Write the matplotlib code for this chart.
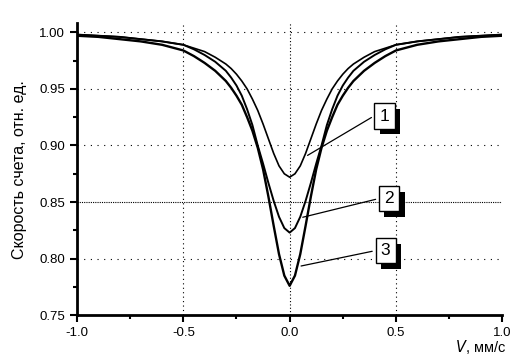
import matplotlib
matplotlib.use('Agg')
import matplotlib.pyplot as plt
import matplotlib.patheffects as pe
from matplotlib.ticker import MultipleLocator

plt.rcParams['font.family'] = ['Liberation Sans', 'DejaVu Sans']

# velocity, mm/s
v = [-1.0, -0.9, -0.8, -0.7, -0.6, -0.5, -0.45, -0.4, -0.35, -0.3, -0.275, -0.25,
     -0.225, -0.2, -0.175, -0.15, -0.125, -0.1, -0.075, -0.05, -0.025, 0.0,
     0.025, 0.05, 0.075, 0.1, 0.125, 0.15, 0.175, 0.2, 0.225, 0.25, 0.275, 0.3,
     0.35, 0.4, 0.45, 0.5, 0.6, 0.7, 0.8, 0.9, 1.0]

# count rate, rel. units
y1 = [0.998, 0.997, 0.996, 0.994, 0.992, 0.989, 0.986, 0.983, 0.978, 0.972, 0.968, 0.963,
      0.957, 0.950, 0.941, 0.931, 0.919, 0.906, 0.893, 0.882, 0.875, 0.872,
      0.875, 0.882, 0.893, 0.906, 0.919, 0.931, 0.941, 0.950, 0.957, 0.963, 0.968, 0.972,
      0.978, 0.983, 0.986, 0.989, 0.992, 0.994, 0.996, 0.997, 0.998]
y2 = [0.998, 0.997, 0.996, 0.994, 0.992, 0.989, 0.985, 0.980, 0.974, 0.966, 0.960, 0.953,
      0.944, 0.932, 0.918, 0.900, 0.884, 0.867, 0.851, 0.837, 0.827, 0.823,
      0.827, 0.837, 0.851, 0.867, 0.884, 0.900, 0.918, 0.932, 0.944, 0.953, 0.960, 0.966,
      0.974, 0.980, 0.985, 0.989, 0.992, 0.994, 0.996, 0.997, 0.998]
y3 = [0.997, 0.996, 0.994, 0.992, 0.989, 0.984, 0.979, 0.973, 0.966, 0.957, 0.951, 0.944,
      0.936, 0.925, 0.913, 0.898, 0.879, 0.855, 0.829, 0.804, 0.785, 0.776,
      0.785, 0.804, 0.829, 0.855, 0.879, 0.898, 0.913, 0.925, 0.936, 0.944, 0.951, 0.957,
      0.966, 0.973, 0.979, 0.984, 0.989, 0.992, 0.994, 0.996, 0.997]

labels = ['1', '2', '3']
label_pos = [(0.446, 0.926), (0.467, 0.853), (0.451, 0.807)]
label_tip = [(0.073, 0.890), (0.049, 0.836), (0.041, 0.793)]

fig = plt.figure(figsize=(5.15, 3.64), dpi=100)
ax = fig.add_axes([0.1495, 0.134, 0.8258, 0.802])

ax.set_xlim(-1.0, 1.0)
ax.set_ylim(0.75, 1.008)

# grid lines
for yy in [0.80, 0.90, 0.95, 1.00]:
    ax.axhline(yy, color='k', lw=0.8, ls=(0, (1, 5)), zorder=1)
ax.axhline(0.85, color='k', lw=0.8, ls=(0, (1, 1)), zorder=1)
for xx in [-0.5, 0.5]:
    ax.axvline(xx, color='k', lw=0.8, ls=(0, (1, 3)), zorder=1)
ax.axvline(0.0, color='k', lw=0.8, ls=(0, (1, 2)), zorder=1)

for y, w in zip([y1, y2, y3], [1.2, 1.4, 1.7]):
    ax.plot(v, y, color='k', lw=w, zorder=3, solid_joinstyle='round')

for lab, (bx, by), (tx, ty) in zip(labels, label_pos, label_tip):
    ax.annotate('', xy=(tx, ty), xytext=(bx - 0.05, by),
                arrowprops=dict(arrowstyle='-', color='k', lw=0.9), zorder=4)
    t = ax.text(bx, by, lab, ha='center', va='center', fontsize=12.5, zorder=5,
                bbox=dict(boxstyle='square,pad=0.3', fc='white', ec='k', lw=1.0))
    t.get_bbox_patch().set_path_effects([
        pe.SimplePatchShadow(offset=(4, -4), shadow_rgbFace='k', alpha=1.0),
        pe.Normal()])

ax.spines['top'].set_visible(False)
ax.spines['right'].set_visible(False)
ax.spines['left'].set_linewidth(2)
ax.spines['bottom'].set_linewidth(2)

ax.xaxis.set_major_locator(MultipleLocator(0.5))
ax.xaxis.set_minor_locator(MultipleLocator(0.25))
ax.yaxis.set_major_locator(MultipleLocator(0.05))
ax.yaxis.set_minor_locator(MultipleLocator(0.025))
ax.tick_params(which='major', direction='out', length=5, width=1.5, labelsize=9.5)
ax.tick_params(which='minor', direction='out', length=3, width=1.5)
ax.set_xticklabels(['{:.1f}'.format(t) for t in ax.get_xticks()])
ax.set_yticklabels(['{:.2f}'.format(t) for t in ax.get_yticks()])

ax.set_ylabel('Скорость счета, отн. ед.', fontsize=11.5, labelpad=9)
ax.text(1.01, -0.108, r'$V$, мм/с', transform=ax.transAxes, ha='right', va='center',
        fontsize=10.5)

fig.savefig('out.png', dpi=100)
